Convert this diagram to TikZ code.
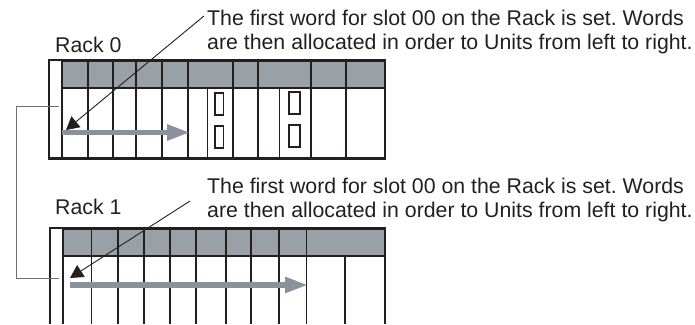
\documentclass[tikz,border=0pt]{standalone}
\usepackage{fontspec}
\setmainfont{Liberation Sans}
\usetikzlibrary{arrows.meta}
\definecolor{ink}{HTML}{231F20}
\definecolor{band}{HTML}{9AA1A6}
\definecolor{flow}{HTML}{87929A}
\definecolor{wire}{HTML}{6E6E6E}
\tikzset{
  x=1pt,y=-1pt,
  frame/.style={draw=ink,line width=2.4pt},
  bandbox/.style={fill=band,draw=ink,line width=2pt},
  slot/.style={draw=ink,line width=1.3pt},
  slotheavy/.style={draw=ink,line width=2pt},
  port/.style={draw=ink,line width=1.1pt,fill=white},
  label/.style={inner sep=0pt,anchor=base west,text=ink,font=\fontsize{21.3pt}{24pt}\selectfont\frenchspacing},
  note/.style={inner sep=0pt,anchor=north west,align=left,text=ink,font=\fontsize{21.3pt}{24.2pt}\selectfont\frenchspacing},
  leader/.style={draw=ink,line width=0.9pt,-{Triangle[length=13pt,width=14pt]}},
  flowarrow/.style={draw=flow,line width=5.5pt,-{Triangle[length=23pt,width=15pt]}},
  link/.style={draw=wire,line width=1pt},
}
\begin{document}
\begin{tikzpicture}
\useasboundingbox (0,0) rectangle (695,324);
% Rack 0
\draw[frame] (49,60) rectangle (385,158.5);
\draw[bandbox] (62,60.5) rectangle (385,88);
\foreach \x in {88,113,136,162,233,258,311,346}
  \draw[slot] (\x,60) -- (\x,158.5);
\foreach \x in {62,188}
  \draw[slotheavy] (\x,60) -- (\x,158.5);
\foreach \x in {207.5,279.5}
  \draw[slot] (\x,88) -- (\x,158.5);
\draw[slotheavy] (62,159) -- (88,159);
\draw[port] (215,93) rectangle (223.5,115);
\draw[port] (215,126) rectangle (223.5,148);
\draw[port] (289,92) rectangle (300,114);
\draw[port] (289,125) rectangle (300,147);
% Rack 1
\draw[frame] (50,324) -- (50,228) -- (385,228) -- (385,324);
\draw[bandbox] (63,229) rectangle (385,256);
\foreach \x in {91.5,118,144,170,196,226,251,279,306.5}
  \draw[slot] (\x,229) -- (\x,324);
\draw[slotheavy] (63,229) -- (63,256);
\draw[slot] (63,256) -- (63,324);
\draw[slot] (345,256) -- (345,324);
% Flow arrows
\coordinate (f0a) at (62,132.5);
\coordinate (f0b) at (188,132.5);
\coordinate (f1a) at (70,285);
\coordinate (f1b) at (306,285);
\draw[flowarrow,shorten >=-2pt] (f0a) -- (f0b);
\draw[flowarrow,shorten >=-2pt] (f1a) -- (f1b);
% Link between racks
\coordinate (l0) at (59,106);
\coordinate (lc0) at (16,106);
\coordinate (lc1) at (16,278);
\coordinate (l1) at (59,278);
\draw[link] (l0) -- (lc0) -- (lc1) -- (l1);
% Leaders
\coordinate (n0) at (204,16);
\coordinate (t0) at (66,130);
\coordinate (n1) at (190,201);
\coordinate (t1) at (70,278);
\draw[leader] (n0) -- (t0);
\draw[leader] (n1) -- (t1);
% Text
\node[label] (rack0) at (55,52) {Rack 0};
\node[label] (rack1) at (55,214.5) {Rack 1};
\node[note] (note0) at (207,10) {The first word for slot 00 on the Rack is set. Words\\are then allocated in order to Units from left to right.};
\node[note] (note1) at (207,178) {The first word for slot 00 on the Rack is set. Words\\are then allocated in order to Units from left to right.};
\end{tikzpicture}
\end{document}
